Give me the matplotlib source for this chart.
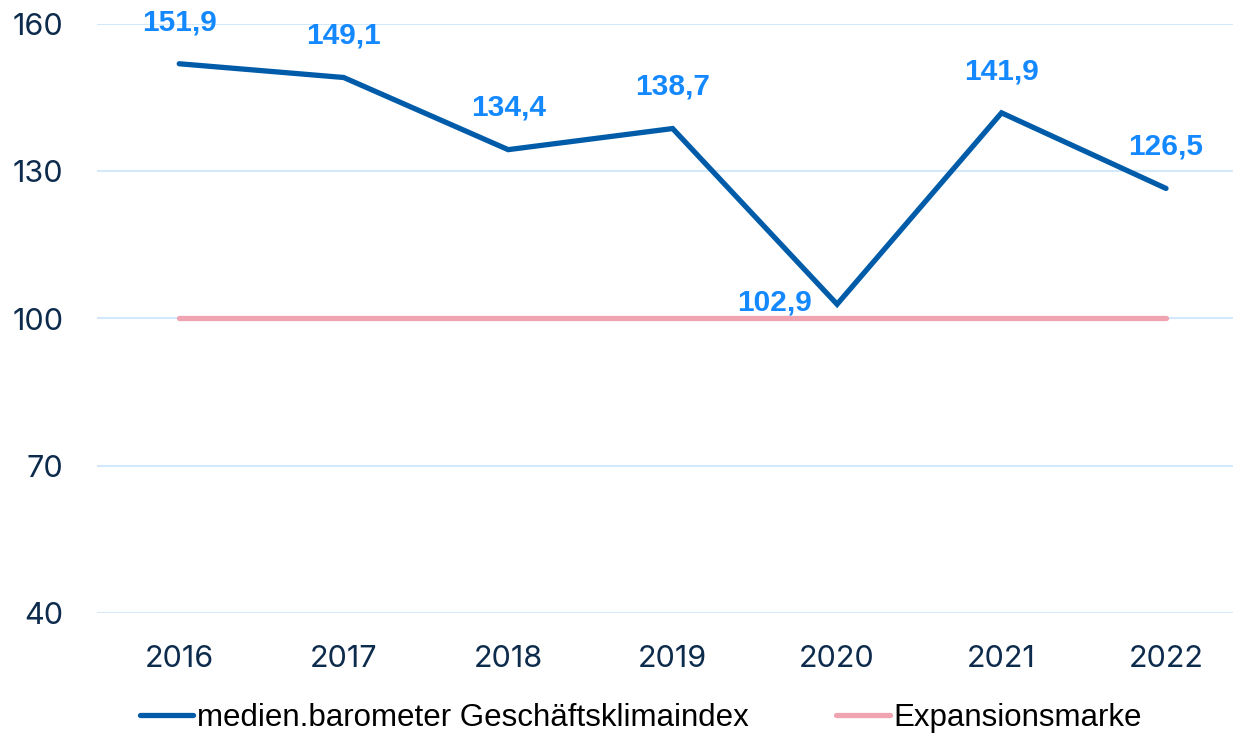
import matplotlib
matplotlib.use("Agg")
import matplotlib.pyplot as plt

years = ["2016", "2017", "2018", "2019", "2020", "2021", "2022"]
index_values = [151.9, 149.1, 134.4, 138.7, 102.9, 141.9, 126.5]
expansion = [100, 100, 100, 100, 100, 100, 100]
value_labels = ["151,9", "149,1", "134,4", "138,7", "102,9", "141,9", "126,5"]
yticks = [40, 70, 100, 130, 160]
series_names = ["medien.barometer Geschäftsklimaindex", "Expansionsmarke"]

fig = plt.figure(figsize=(12.33, 7.37), dpi=100)
ax = fig.add_axes([97/1233, (737-613)/737, 1 - 97/1233, (613-24)/737])

x = list(range(len(years)))
ax.plot(x, expansion, color="#f0a3b1", lw=3.8, solid_capstyle="round", label=series_names[1], zorder=3)
ax.plot(x, index_values, color="#005ca9", lw=3.8, solid_capstyle="round", solid_joinstyle="miter", label=series_names[0], zorder=4)

for i, (v, t) in enumerate(zip(index_values, value_labels)):
    if i == 4:
        off = (-45, 1)
    else:
        off = (0, 30)
    ax.annotate(t, (i, v), xytext=off, textcoords="offset points", ha="center", va="center",
                fontsize=21.5, fontweight="bold", color="#1488ff", family="Liberation Sans",
                clip_on=False, zorder=5)

ax.set_ylim(40, 160)
ax.set_xlim(-0.5, (1233-179)/164.5)
ax.set_yticks(yticks)
ax.set_xticks(x)
ax.set_xticklabels(years)
ax.grid(axis="y", color="#d3e8fb", lw=1.5)
ax.set_axisbelow(True)
for s in ax.spines.values():
    s.set_visible(False)
ax.tick_params(axis="both", length=0, labelsize=22, labelcolor="#0d2b4c")
ax.tick_params(axis="y", pad=24)
ax.tick_params(axis="x", pad=23)
for lab in ax.get_xticklabels() + ax.get_yticklabels():
    lab.set_family("Inter")

handles, labels = ax.get_legend_handles_labels()
leg = fig.legend(handles[::-1], labels[::-1], loc="center", bbox_to_anchor=(641/1233, 1 - 718/737),
                 ncol=2, frameon=False, prop={"family": "Liberation Sans", "size": 22.5},
                 handlelength=1.7, handletextpad=0.12, columnspacing=2.8)

fig.savefig("out.png", dpi=100)
